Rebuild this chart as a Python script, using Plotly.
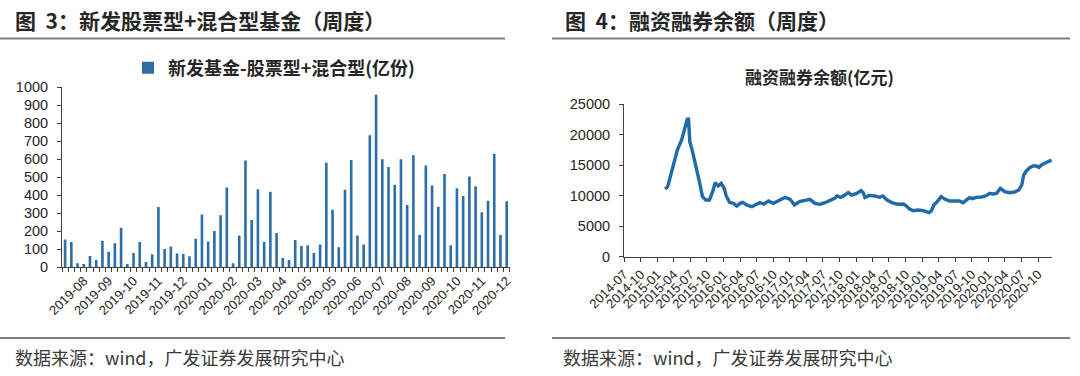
import plotly.graph_objects as go

# ---------------- Data: left chart (weekly new equity + hybrid funds, 亿份) ----------------
fund_values = [154, 141, 22, 18, 63, 41, 148, 87, 133, 220,
               18, 80, 141, 30, 72, 335, 102, 115, 76, 74,
               61, 159, 294, 144, 202, 289, 443, 22, 176, 593,
               263, 433, 141, 420, 191, 52, 41, 152, 119, 122,
               80, 126, 581, 320, 111, 431, 596, 176, 126, 733,
               959, 600, 557, 459, 600, 346, 622, 180, 565, 454,
               337, 519, 122, 439, 396, 504, 450, 306, 370, 631,
               180, 367]
fund_weeks = list(range(len(fund_values)))
fund_tick_labels = ["2019-08", "2019-09", "2019-10", "2019-11", "2019-12", "2020-01",
                    "2020-02", "2020-03", "2020-04", "2020-05", "2020-05", "2020-06",
                    "2020-07", "2020-08", "2020-09", "2020-10", "2020-11", "2020-12"]
fund_label_every = 4

# ---------------- Data: right chart (margin balance, 亿元) ----------------
margin_dates = [
    "2015-02-13", "2015-02-27", "2015-03-16", "2015-04-03", "2015-04-21", "2015-05-15",
    "2015-06-02", "2015-06-15", "2015-06-22", "2015-06-29", "2015-07-14", "2015-08-01",
    "2015-08-19", "2015-09-07", "2015-09-25", "2015-10-15", "2015-11-02", "2015-11-16",
    "2015-12-03", "2015-12-19", "2016-01-05", "2016-01-16", "2016-02-03", "2016-02-25",
    "2016-03-14", "2016-04-01", "2016-04-16", "2016-05-08", "2016-06-05", "2016-06-23",
    "2016-07-20", "2016-08-11", "2016-09-04", "2016-10-02", "2016-10-29", "2016-12-06",
    "2017-01-03", "2017-01-26", "2017-02-23", "2017-03-26", "2017-04-22", "2017-05-19",
    "2017-06-16", "2017-07-13", "2017-08-09", "2017-09-05", "2017-09-18", "2017-10-08",
    "2017-11-01", "2017-11-19", "2017-12-07", "2018-01-05", "2018-01-28", "2018-02-10",
    "2018-02-19", "2018-03-15", "2018-04-14", "2018-05-11", "2018-05-29", "2018-06-21",
    "2018-07-15", "2018-08-12", "2018-09-01", "2018-09-20", "2018-10-06", "2018-10-25",
    "2018-11-12", "2018-12-09", "2019-01-06", "2019-01-25", "2019-02-08", "2019-02-21",
    "2019-03-06", "2019-03-25", "2019-04-16", "2019-05-05", "2019-06-01", "2019-06-29",
    "2019-07-26", "2019-08-14", "2019-09-01", "2019-09-19", "2019-10-05", "2019-10-26",
    "2019-11-24", "2019-12-17", "2020-01-09", "2020-01-24", "2020-02-15", "2020-03-07",
    "2020-03-31", "2020-04-27", "2020-05-25", "2020-06-17", "2020-07-03", "2020-07-14",
    "2020-07-28", "2020-08-16", "2020-09-03", "2020-09-22", "2020-10-06", "2020-10-20",
    "2020-11-07", "2020-11-26", "2020-12-14"]
margin_values = [
    11100, 11490, 13400, 15590, 17500, 19150,
    21060, 22540, 22540, 18870, 17230, 15040,
    12580, 9850, 9300, 9300, 10670, 12140,
    11600, 12030, 11210, 9960, 8920, 8750,
    8310, 8750, 8920, 8480, 8200, 8480,
    8860, 8640, 9130, 8750, 9190, 9740,
    9410, 8480, 9030, 9300, 9410, 8750,
    8590, 8860, 9190, 9570, 9960, 9740,
    10120, 10500, 10120, 10390, 10830, 10500,
    9740, 10060, 9960, 9740, 9960, 9300,
    8920, 8640, 8600, 8640, 8310, 7770,
    7550, 7660, 7550, 7380, 7220, 7550,
    8480, 9030, 9850, 9460, 9130, 9130,
    9130, 8860, 9300, 9680, 9520, 9740,
    9790, 9960, 10390, 10280, 10390, 11210,
    10670, 10500, 10610, 10940, 11760, 13400,
    14060, 14600, 14880, 14880, 14660, 15040,
    15320, 15590, 15860]
margin_tick_labels = ["2014-07", "2014-10", "2015-01", "2015-04", "2015-07", "2015-10",
                      "2016-01", "2016-04", "2016-07", "2016-10", "2017-01", "2017-04",
                      "2017-07", "2017-10", "2018-01", "2018-04", "2018-07", "2018-10",
                      "2019-01", "2019-04", "2019-07", "2019-10", "2020-01", "2020-04",
                      "2020-07", "2020-10"]

# ---------------- Styles ----------------
W, H = 1080, 376
BAR_COLOR = "#2E6EA6"
LINE_COLOR = "#216AA8"
AXIS_COLOR = "#404040"
TEXT_COLOR = "#262626"
CJK = "Noto Sans CJK SC"
LATIN = "Arial, Liberation Sans, sans-serif"


def px_x(v):
    return v / W


def px_y(v):
    return 1 - v / H


fig = go.Figure()

fig.add_trace(go.Bar(
    x=fund_weeks, y=fund_values, marker=dict(color=BAR_COLOR, line=dict(width=0)),
    width=0.42, name="<b>新发基金-股票型+混合型(亿份)</b>", showlegend=True,
    xaxis="x", yaxis="y"))

fig.add_trace(go.Scatter(
    x=margin_dates, y=margin_values, mode="lines",
    line=dict(color=LINE_COLOR, width=3.4), showlegend=False,
    xaxis="x2", yaxis="y2"))

n = len(fund_values)
tickvals_left = list(range(n - 1 - fund_label_every * (len(fund_tick_labels) - 1), n, fund_label_every))

axis_common = dict(showgrid=False, zeroline=False, showline=True, linecolor=AXIS_COLOR,
                   linewidth=1, automargin=False)
xfont = dict(family=LATIN, size=13, color=TEXT_COLOR)
yfont = dict(family=LATIN, size=14.5, color=TEXT_COLOR)

fig.update_layout(
    template="none",
    width=W, height=H, margin=dict(l=0, r=0, t=0, b=0, pad=0),
    paper_bgcolor="white", plot_bgcolor="white",
    bargap=0.5,
    xaxis=dict(domain=[px_x(62), px_x(509.8)], range=[-0.5, n - 0.5],
               tickmode="array", tickvals=tickvals_left, ticktext=fund_tick_labels,
               tickangle=-45, ticks="", anchor="y", tickfont=xfont,
               minor=dict(tickmode="linear", tick0=-0.5, dtick=1, ticks="outside",
                          ticklen=4, tickcolor=AXIS_COLOR, tickwidth=1, showgrid=False),
               **axis_common),
    yaxis=dict(domain=[px_y(267.3), px_y(87.3)], range=[0, 1000], dtick=100,
               tickformat="d", ticks="outside", ticklen=4, tickcolor=AXIS_COLOR,
               ticklabelstandoff=6, anchor="x", tickfont=yfont, **axis_common),
    xaxis2=dict(domain=[px_x(624), px_x(1052)], range=["2014-07-01", "2020-12-17"],
                type="date", tickmode="array",
                tickvals=[lbl + "-01" for lbl in margin_tick_labels],
                ticktext=margin_tick_labels, tickangle=-45, ticks="outside",
                ticklen=4, tickcolor=AXIS_COLOR, anchor="y2", tickfont=xfont,
                **axis_common),
    yaxis2=dict(domain=[px_y(256.7), px_y(104.3)], range=[0, 25000], dtick=5000,
                tickformat="d", ticks="outside", ticklen=4, tickcolor=AXIS_COLOR,
                ticklabelstandoff=6, anchor="x2", tickfont=yfont, **axis_common),
    legend=dict(x=px_x(128), y=px_y(68), xanchor="left", yanchor="middle",
                font=dict(family=CJK, size=18, color=TEXT_COLOR),
                bgcolor="rgba(0,0,0,0)", itemwidth=30, borderwidth=0),
    font=dict(family=CJK),
)

annotations = [
    dict(text="<b>图\u00a0\u00a03：新发股票型+混合型基金（周度）</b>", x=px_x(13), y=px_y(20),
         xanchor="left", yanchor="middle", font=dict(family=CJK, size=21, color=TEXT_COLOR)),
    dict(text="<b>图\u00a0\u00a04：融资融券余额（周度）</b>", x=px_x(563), y=px_y(20),
         xanchor="left", yanchor="middle", font=dict(family=CJK, size=21, color=TEXT_COLOR)),
    dict(text="<b>融资融券余额(亿元)</b>", x=px_x(819), y=px_y(77),
         xanchor="center", yanchor="middle", font=dict(family=CJK, size=17, color=TEXT_COLOR)),
    dict(text="数据来源：wind，广发证券发展研究中心", x=px_x(13), y=px_y(357),
         xanchor="left", yanchor="middle", font=dict(family=CJK, size=18, color="#3a3a3a")),
    dict(text="数据来源：wind，广发证券发展研究中心", x=px_x(561), y=px_y(357),
         xanchor="left", yanchor="middle", font=dict(family=CJK, size=18, color="#3a3a3a")),
]
for a in annotations:
    a.update(xref="paper", yref="paper", showarrow=False)
fig.update_layout(annotations=annotations)

line_style = dict(color="#7f7f7f", width=1.8)
shapes = [
    dict(type="line", x0=0, x1=px_x(505), y0=px_y(38.5), y1=px_y(38.5)),
    dict(type="line", x0=px_x(552), x1=px_x(1070), y0=px_y(38.5), y1=px_y(38.5)),
    dict(type="line", x0=0, x1=px_x(505), y0=px_y(338), y1=px_y(338)),
    dict(type="line", x0=px_x(552), x1=px_x(1070), y0=px_y(338), y1=px_y(338)),
]
for s in shapes:
    s.update(xref="paper", yref="paper", line=line_style)
fig.update_layout(shapes=shapes)

fig.write_html("out.html", config={"displayModeBar": False},
               post_script="document.body.style.margin='0';document.body.style.overflow='hidden';")
